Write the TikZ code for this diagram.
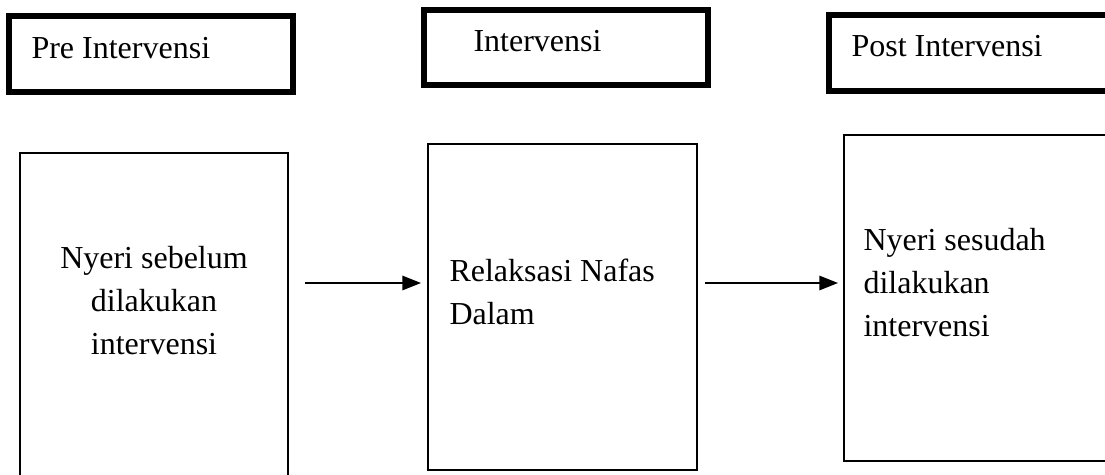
\documentclass[tikz,border=0pt]{standalone}
\usepackage{fontspec}
\setmainfont{Liberation Serif}
\usetikzlibrary{arrows.meta}
\tikzset{
  headbox/.style={line width=1.9pt},
  bodybox/.style={line width=0.75pt},
  txt/.style={font=\fontsize{12}{16.1}\selectfont, inner sep=0pt},
  flow/.style={line width=0.6pt, -{Triangle[length=7pt,width=5.4pt]}}
}
\begin{document}
\begin{tikzpicture}[x=0.375pt,y=-0.375pt]
\clip (0,0) rectangle (1105,475);
% header boxes
\draw[headbox] (9,16) rectangle (293,92);
\draw[headbox] (424,10) rectangle (708,85);
\draw[headbox] (829,15) rectangle (1130,91);
\node[txt, anchor=base west] (pre) at (31,58) {Pre Intervensi};
\node[txt, anchor=base west] (intv) at (473,52) {Intervensi};
\node[txt, anchor=base west] (post) at (851,57) {Post Intervensi};
% body boxes (base anchor sits on the last line)
\draw[bodybox] (19.5,153) rectangle (287.5,500);
\draw[bodybox] (428,144) rectangle (697,470);
\draw[bodybox] (844,135) rectangle (1130,461);
\node[txt, anchor=base, align=center] (before) at (154,354) {Nyeri sebelum\\dilakukan\\intervensi};
\node[txt, anchor=base west, align=left] (relax) at (449,324) {Relaksasi Nafas\\Dalam};
\node[txt, anchor=base west, align=left] (after) at (863,336) {Nyeri sesudah\\dilakukan\\intervensi};
% arrows
\coordinate (a1) at (305,283);
\coordinate (a2) at (421,283);
\coordinate (b1) at (705,283);
\coordinate (b2) at (838,283);
\draw[flow] (a1) -- (a2);
\draw[flow] (b1) -- (b2);
\end{tikzpicture}
\end{document}
